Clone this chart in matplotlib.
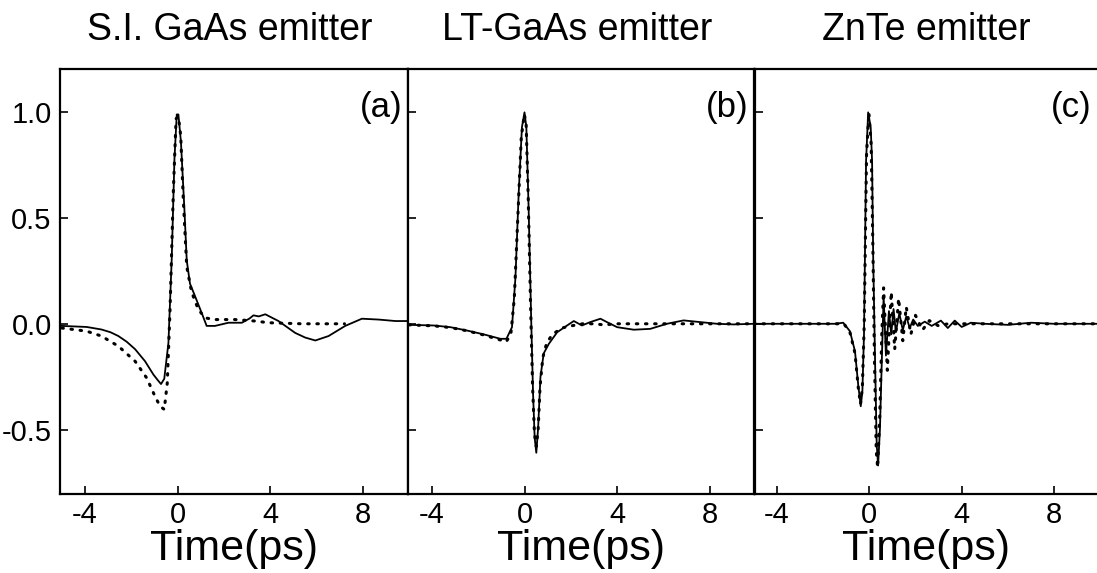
import matplotlib
matplotlib.use("Agg")
import matplotlib.pyplot as plt
import numpy as np

plt.rcParams['font.family'] = ['Liberation Sans', 'DejaVu Sans']
plt.rcParams['axes.unicode_minus'] = False

# panel (a) S.I. GaAs emitter
ta_meas = [-5.0, -3.93, -3.29, -2.9, -2.56, -2.2, -1.84, -1.41, -1.05, -0.85, -0.72, -0.58, -0.40, -0.26, -0.14,
           -0.04, 0.03, 0.14, 0.29, 0.39, 0.53, 0.75, 1.04, 1.25, 1.61, 2.19, 2.77, 3.1, 3.27, 3.5, 3.78, 4.35,
           5.07, 5.5, 5.94, 6.51, 7.23, 7.95, 8.67, 9.4, 10.0]
ya_meas = [-0.01, -0.015, -0.027, -0.04, -0.058, -0.085, -0.12, -0.177, -0.24, -0.268, -0.285, -0.26, -0.09,
           0.30, 0.78, 0.99, 0.99, 0.86, 0.54, 0.30, 0.19, 0.13, 0.05, -0.01, -0.01, 0.005, 0.005, 0.025, 0.04,
           0.035, 0.045, 0.013, -0.043, -0.065, -0.079, -0.058, -0.01, 0.024, 0.02, 0.013, 0.013]
ta_sim = [-5.0, -3.93, -3.29, -2.56, -1.84, -1.34, -0.98, -0.76, -0.58, -0.45, -0.33, -0.19, -0.07, 0.03,
          0.13, 0.24, 0.39, 0.6, 0.89, 1.18, 1.61, 2.48, 3.34, 3.92, 5.36, 6.8, 7.2]
ya_sim = [-0.02, -0.035, -0.058, -0.106, -0.177, -0.256, -0.343, -0.39, -0.405, -0.28, 0.07, 0.62, 0.97, 0.98,
          0.89, 0.59, 0.27, 0.15, 0.068, 0.028, 0.02, 0.02, 0.013, 0.005, 0.0, 0.0, 0.0]

# panel (b) LT-GaAs emitter
tb_meas = [-5.0, -3.93, -3.21, -2.49, -1.77, -1.05, -0.79, -0.55, -0.40, -0.26, -0.12, -0.01, 0.07, 0.17,
           0.27, 0.36, 0.43, 0.50, 0.58, 0.68, 0.82, 1.04, 1.40, 1.83, 2.12, 2.47, 2.83, 3.27, 3.55, 3.99,
           4.71, 5.42, 6.14, 6.86, 7.58, 8.3, 9.02, 9.9]
yb_meas = [-0.005, -0.008, -0.016, -0.032, -0.05, -0.071, -0.071, -0.016, 0.22, 0.62, 0.93, 1.0, 0.93, 0.54,
           0.06, -0.33, -0.54, -0.61, -0.49, -0.25, -0.14, -0.095, -0.04, -0.008, 0.013, -0.008, 0.008, 0.024,
           0.008, -0.016, -0.028, -0.024, 0.0, 0.016, 0.008, 0.0, -0.003, 0.0]
tb_sim = [-5.0, -3.9, -3.2, -2.5, -1.8, -1.1, -0.8, -0.6, -0.45, -0.3, -0.15, -0.02, 0.06, 0.15, 0.25,
          0.34, 0.42, 0.5, 0.58, 0.66, 0.78, 0.95, 1.2, 1.6, 2.0, 2.5, 3.0, 3.4, 4.0, 5.0, 6.0, 7.0, 8.0, 9.9]
yb_sim = [-0.005, -0.01, -0.018, -0.033, -0.052, -0.075, -0.085, -0.05, 0.12, 0.5, 0.88, 0.99, 0.95, 0.6, 0.1,
          -0.3, -0.52, -0.58, -0.5, -0.3, -0.16, -0.09, -0.05, -0.02, -0.01, 0.0, 0.0, -0.005, 0.0, 0.0, 0.0,
          0.0, 0.0, 0.0]

# panel (c) ZnTe emitter
tc_meas = [-5.0, -3.0, -1.5, -1.13, -0.84, -0.62, -0.48, -0.37, -0.30, -0.23, -0.14, -0.05, 0.06, 0.12, 0.17,
           0.25, 0.32, 0.38, 0.46, 0.54, 0.62, 0.72, 0.85, 0.95, 1.05, 1.15, 1.3, 1.45, 1.6, 1.75, 1.9, 2.1,
           2.4, 2.7, 3.1, 3.4, 3.7, 4.0, 4.4, 5.0, 6.0, 7.0, 8.0, 9.9]
yc_meas = [0.0, 0.0, 0.0, 0.005, -0.035, -0.13, -0.29, -0.39, -0.32, -0.05, 0.77, 1.0, 0.93, 0.77, 0.30,
           -0.18, -0.57, -0.67, -0.5, -0.18, 0.13, -0.15, 0.06, -0.05, 0.07, -0.04, 0.05, -0.03, 0.035, -0.02,
           0.02, -0.01, 0.01, -0.01, 0.015, -0.02, 0.015, -0.015, 0.005, 0.0, -0.005, 0.005, 0.0, 0.0]
tc_sim = [-5.0, -3.0, -1.5, -1.1, -0.84, -0.62, -0.48, -0.38, -0.30, -0.22, -0.12, -0.02, 0.08, 0.15, 0.22,
          0.30, 0.36, 0.45, 0.54, 0.62, 0.78, 0.95, 1.1, 1.27, 1.45, 1.6, 1.8, 2.0, 2.3, 2.6, 3.0, 3.4, 5.0,
          7.0, 9.9]
yc_sim = [0.0, 0.0, 0.0, 0.0, -0.04, -0.14, -0.3, -0.38, -0.3, 0.0, 0.8, 1.0, 0.85, 0.4, -0.15,
          -0.6, -0.68, -0.45, -0.05, 0.17, -0.22, 0.15, -0.12, 0.12, -0.08, 0.08, -0.05, 0.04, -0.03, 0.015,
          -0.01, 0.0, 0.0, 0.0, 0.0]

titles = ['S.I. GaAs emitter', 'LT-GaAs emitter', 'ZnTe emitter']
tags = ['(a)', '(b)', '(c)']
xticks = [-4, 0, 4, 8]
yticks = [-0.5, 0.0, 0.5, 1.0]
ytick_labels = ['-0.5', '0.0', '0.5', '1.0']

fig = plt.figure(figsize=(10.97, 5.73), dpi=100)
W, H = 1097.0, 573.0
bottom = 1 - 494 / H
height = (494 - 69) / H
panels = [(60, 348, (-5.08, 9.94)), (408, 346, (-5.04, 9.9)), (755, 342, (-4.95, 9.86))]
data = [(ta_meas, ya_meas, ta_sim, ya_sim),
        (tb_meas, yb_meas, tb_sim, yb_sim),
        (tc_meas, yc_meas, tc_sim, yc_sim)]
title_x = [230, 577, 926]

for i, (left, width, xl) in enumerate(panels):
    ax = fig.add_axes([left / W, bottom, width / W, height])
    tm, ym, ts, ys = data[i]
    ax.plot(ts, ys, color='black', linestyle=(0, (0.5, 2.5)), linewidth=2.2,
            dash_capstyle='round')
    ax.plot(tm, ym, color='black', linewidth=1.3)
    ax.set_xlim(*xl)
    ax.set_ylim(-0.805, 1.205)
    ax.set_xticks(xticks)
    ax.set_yticks(yticks)
    ax.tick_params(direction='in', length=6, width=1.2, labelsize=21)
    ax.tick_params(axis='x', pad=5)
    ax.tick_params(axis='y', pad=6)
    if i == 0:
        ax.set_yticklabels(ytick_labels)
    else:
        ax.set_yticklabels([])
    for s in ax.spines.values():
        s.set_linewidth(1.6)
    if i == 2:
        ax.spines['right'].set_visible(False)
    ax.set_xlabel('Time(ps)', fontsize=31, labelpad=0)
    ax.text(0.985, 0.91, tags[i], transform=ax.transAxes, ha='right', va='center', fontsize=25)
    fig.text(title_x[i] / W, 1 - 40 / H, titles[i], ha='center', va='baseline', fontsize=27)

fig.savefig('out.png', dpi=100)
